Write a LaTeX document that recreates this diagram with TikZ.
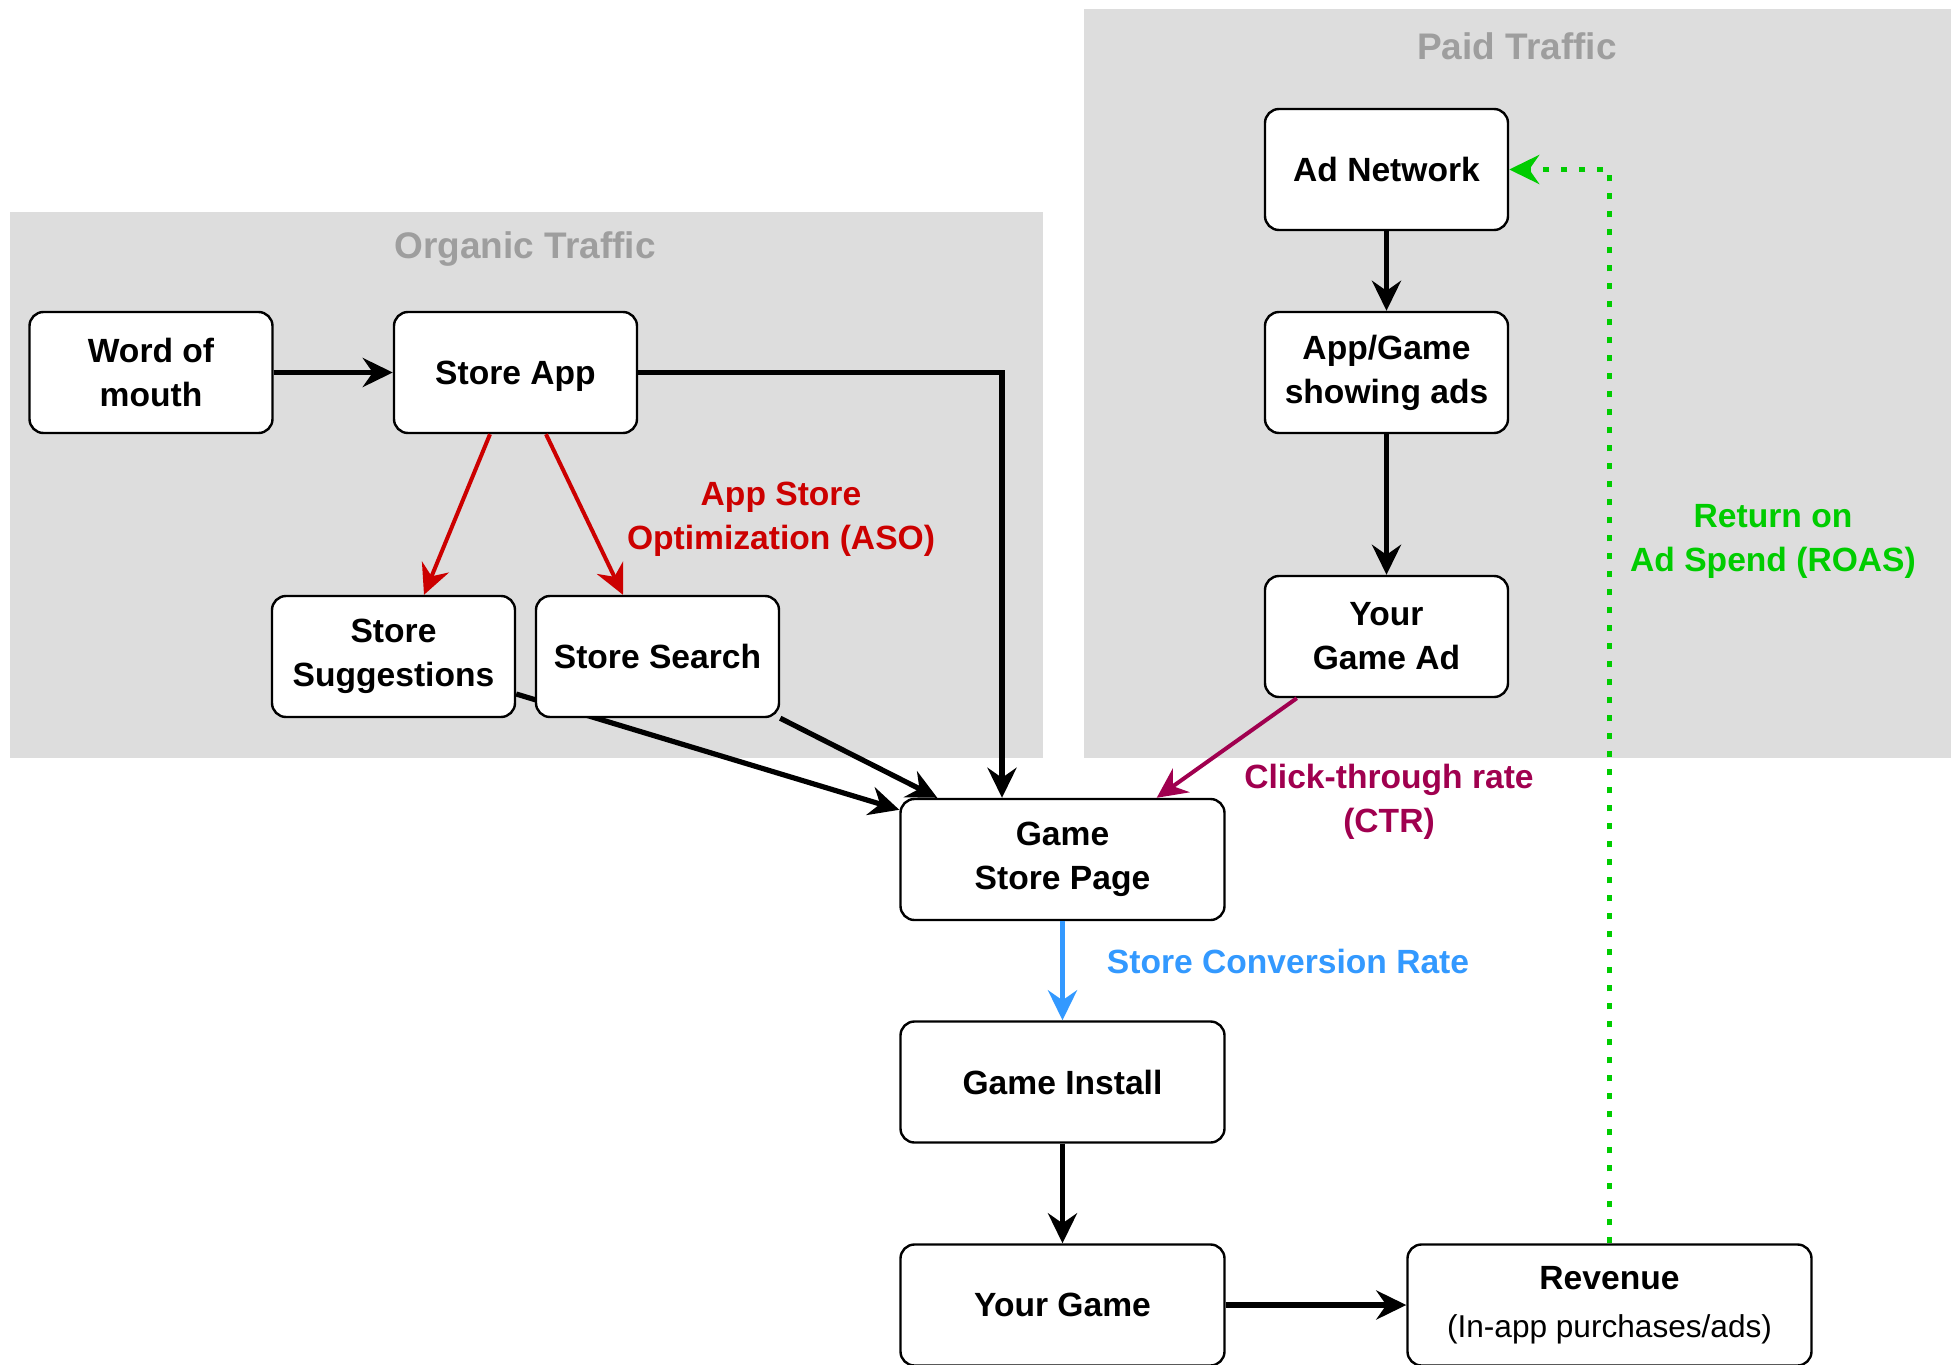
\documentclass[tikz,border=0pt]{standalone}
\usepackage{fontspec}
\setmainfont{Liberation Sans}
\usetikzlibrary{arrows.meta,calc}
\definecolor{regionbg}{HTML}{DDDDDD}
\definecolor{titlegray}{HTML}{9E9E9E}
\definecolor{asored}{HTML}{CC0000}
\definecolor{ctrpurple}{HTML}{A0004F}
\definecolor{convblue}{HTML}{3399FF}
\definecolor{roasgreen}{HTML}{00CC00}
\pgfdeclarelayer{regions}
\pgfdeclarelayer{under}
\pgfsetlayers{regions,under,main}
\begin{document}
\begin{tikzpicture}[x=0.5pt,y=-0.5pt,
  box/.style={draw=black, line width=1.2pt, rounded corners=7pt, fill=white, align=center,
    font=\bfseries\fontsize{16.8}{22}\selectfont, inner sep=2pt},
  small/.style={box, minimum width=121.5pt, minimum height=60.5pt},
  wide/.style={box, minimum width=162pt, minimum height=60.5pt},
  widest/.style={box, minimum width=202pt, minimum height=60.5pt},
  regiontitle/.style={font=\bfseries\fontsize{18.5}{22}\selectfont, text=titlegray},
  lbl/.style={font=\bfseries\fontsize{16.8}{22}\selectfont, align=center},
  head/.style={-{Stealth[length=15pt,width=14.5pt,inset=5pt]}},
  conn/.style={line width=2.6pt, head},
  thinconn/.style={line width=2pt, head},
]
\useasboundingbox (0,0) rectangle (1951,1365);
% regions
\begin{pgfonlayer}{regions}
\fill[regionbg] (10,212) rectangle (1043,758);
\fill[regionbg] (1084,9) rectangle (1951,758);
\end{pgfonlayer}
\node[regiontitle] (ot) at (525,249) {Organic Traffic};
\node[regiontitle] (pt) at (1517,46) {Paid Traffic};

% nodes
\node[small] (wom) at (151,372.5) {Word of\\mouth};
\node[small, text depth=0pt] (sa) at (515.5,372.5) {Store App};
\node[small] (ss) at (393.5,656.5) {Store\\Suggestions};
\node[small] (ssearch) at (657.5,656.5) {Store Search};
\node[small] (an) at (1386.5,169.5) {Ad Network};
\node[small] (ags) at (1386.5,372.5) {App/Game\\showing ads};
\node[small] (yga) at (1386.5,636.5) {Your\\Game Ad};
\node[wide] (gsp) at (1062.5,859.5) {Game\\Store Page};
\node[wide] (gi) at (1062.5,1082) {Game Install};
\node[wide] (yg) at (1062.5,1305) {Your Game};
\node[widest] (rev) at (1609.5,1305) {Revenue\\[2pt]{\mdseries\fontsize{15.8}{20}\selectfont (In-app purchases/ads)}};

% connectors
\draw[conn] (wom) -- (sa);
\draw[conn] (sa.east) -| ($(gsp.north)+(-60.5,0)$);
\draw[thinconn, asored] ($(sa.south)+(-25.5,0)$) -- ($(ss.north)+(30.5,0)$);
\draw[thinconn, asored] ($(sa.south)+(30.5,0)$) -- ($(ssearch.north)+(-34.5,0)$);
\begin{pgfonlayer}{under}
\draw[conn] ($(ss.east)+(0,37.5)$) -- ($(gsp.north west)+(0,12)$);
\end{pgfonlayer}
\draw[conn] (ssearch.south east) -- ($(gsp.north west)+(38,0)$);
\draw[conn] (an) -- (ags);
\draw[conn] (ags) -- (yga);
\draw[thinconn, ctrpurple] ($(yga.south west)+(33,0)$) -- ($(gsp.north east)+(-69,0)$);
\draw[thinconn, convblue, line width=2.4pt] (gsp) -- (gi);
\draw[conn] (gi) -- (yg);
\draw[conn] (yg) -- (rev);
\draw[roasgreen, line width=2.8pt, dash pattern=on 3pt off 6pt, head]
  (rev.north) |- (an.east);

% labels
\node[lbl, text=asored] (asolbl) at (781,519) {App Store\\Optimization (ASO)};
\node[lbl, text=roasgreen] (roaslbl) at (1773,541) {Return on\\Ad Spend (ROAS)};
\node[lbl, text=ctrpurple] (ctrlbl) at (1389,802) {Click-through rate\\(CTR)};
\node[lbl, text=convblue] (convlbl) at (1288,961) {Store Conversion Rate};
\end{tikzpicture}
\end{document}
